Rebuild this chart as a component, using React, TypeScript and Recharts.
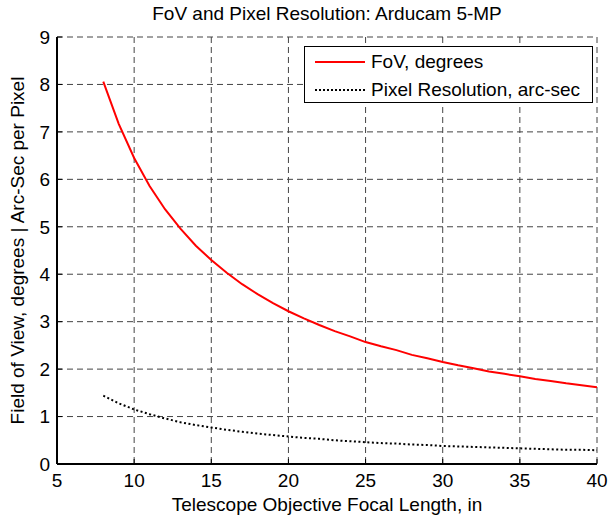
import { LineChart, Line, XAxis, YAxis, CartesianGrid, Label } from 'recharts'

const focalLength = [8, 9, 10, 11, 12, 13, 14, 15, 16, 17, 18, 19, 20, 21, 22, 23, 24, 25, 26, 27, 28, 29, 30, 31, 32, 33, 34, 35, 36, 37, 38, 39, 40]
const fovDegrees = [8.06, 7.17, 6.45, 5.86, 5.37, 4.96, 4.6, 4.3, 4.03, 3.79, 3.58, 3.39, 3.22, 3.07, 2.93, 2.8, 2.69, 2.57, 2.48, 2.4, 2.3, 2.23, 2.15, 2.08, 2.02, 1.95, 1.9, 1.85, 1.79, 1.75, 1.7, 1.66, 1.62]
const pixelRes = [1.44, 1.28, 1.15, 1.05, 0.96, 0.88, 0.82, 0.77, 0.72, 0.68, 0.64, 0.61, 0.58, 0.55, 0.53, 0.5, 0.48, 0.46, 0.44, 0.43, 0.41, 0.4, 0.38, 0.37, 0.36, 0.35, 0.34, 0.33, 0.32, 0.31, 0.3, 0.3, 0.29]
const xTicks = [5, 10, 15, 20, 25, 30, 35, 40]
const yTicks = [0, 1, 2, 3, 4, 5, 6, 7, 8, 9]
const legendNames = ['FoV, degrees', 'Pixel Resolution, arc-sec']

const data = focalLength.map((x, i) => ({ x, fov: fovDegrees[i], res: pixelRes[i] }))

const FONT = '"Liberation Sans", Arial, sans-serif'
const tickStyle = { fontSize: 19, fill: '#000', fontFamily: FONT }

function LegendBox() {
  return (
    <div style={{ position: 'absolute', left: 304, top: 46, width: 287, height: 55, border: '1px solid #000', background: '#fff', fontFamily: FONT, fontSize: 19, color: '#000' }}>
      <svg width={60} height={55} style={{ position: 'absolute', left: 0, top: 0 }}>
        <line x1={10} x2={60} y1={15} y2={15} stroke="#ff0000" strokeWidth={2} />
        <line x1={10} x2={60} y1={43} y2={43} stroke="#000" strokeWidth={2} strokeDasharray="2 2" />
      </svg>
      <div style={{ position: 'absolute', left: 66, top: 3, lineHeight: '24px', whiteSpace: 'nowrap' }}>{legendNames[0]}</div>
      <div style={{ position: 'absolute', left: 66, top: 31, lineHeight: '24px', whiteSpace: 'nowrap' }}>{legendNames[1]}</div>
    </div>
  )
}

export default function App() {
  return (
    <div style={{ position: 'absolute', left: 0, top: 0, width: 608, height: 521, background: '#fff' }}>
      <div style={{ position: 'absolute', left: 57, width: 540, top: 0, textAlign: 'center', fontFamily: FONT, fontSize: 19, lineHeight: '28px', color: '#000' }}>
        FoV and Pixel Resolution: Arducam 5-MP
      </div>
      <LineChart width={608} height={521} data={data} margin={{ top: 37, right: 11, left: 0, bottom: 0 }}>
        <CartesianGrid stroke="#444" strokeDasharray="6 4" strokeWidth={1} />
        <XAxis
          dataKey="x"
          type="number"
          domain={[5, 40]}
          ticks={xTicks}
          height={57}
          tick={tickStyle}
          tickSize={-5}
          tickMargin={15}
          axisLine={{ stroke: '#000', strokeWidth: 2 }}
          tickLine={{ stroke: '#000' }}
          allowDataOverflow
        >
          <Label value="Telescope Objective Focal Length, in" position="insideBottom" offset={10} style={{ fontSize: 19, fill: '#000', fontFamily: FONT }} />
        </XAxis>
        <XAxis
          xAxisId="top"
          orientation="top"
          dataKey="x"
          type="number"
          domain={[5, 40]}
          ticks={xTicks}
          height={0}
          tick={false}
          tickSize={-5}
          axisLine={{ stroke: '#000', strokeWidth: 2 }}
          tickLine={{ stroke: '#000' }}
          allowDataOverflow
        />
        <YAxis
          type="number"
          domain={[0, 9]}
          ticks={yTicks}
          width={57}
          tick={tickStyle}
          tickSize={-5}
          tickMargin={12}
          axisLine={{ stroke: '#000', strokeWidth: 2 }}
          tickLine={{ stroke: '#000' }}
          allowDataOverflow
        >
          <Label value="Field of View, degrees | Arc-Sec per Pixel" angle={-90} position="insideLeft" offset={17} style={{ fontSize: 19, fill: '#000', fontFamily: FONT, textAnchor: 'middle' }} />
        </YAxis>
        <YAxis
          yAxisId="right"
          orientation="right"
          type="number"
          domain={[0, 9]}
          ticks={yTicks}
          width={0}
          tick={false}
          tickSize={-5}
          axisLine={{ stroke: '#000', strokeWidth: 2 }}
          tickLine={{ stroke: '#000' }}
          allowDataOverflow
        />
        <Line type="linear" dataKey="fov" stroke="#ff0000" strokeWidth={2} dot={false} isAnimationActive={false} />
        <Line type="linear" dataKey="res" stroke="#000" strokeWidth={2} strokeDasharray="2 2.5" dot={false} isAnimationActive={false} />
      </LineChart>
      <LegendBox />
    </div>
  )
}
